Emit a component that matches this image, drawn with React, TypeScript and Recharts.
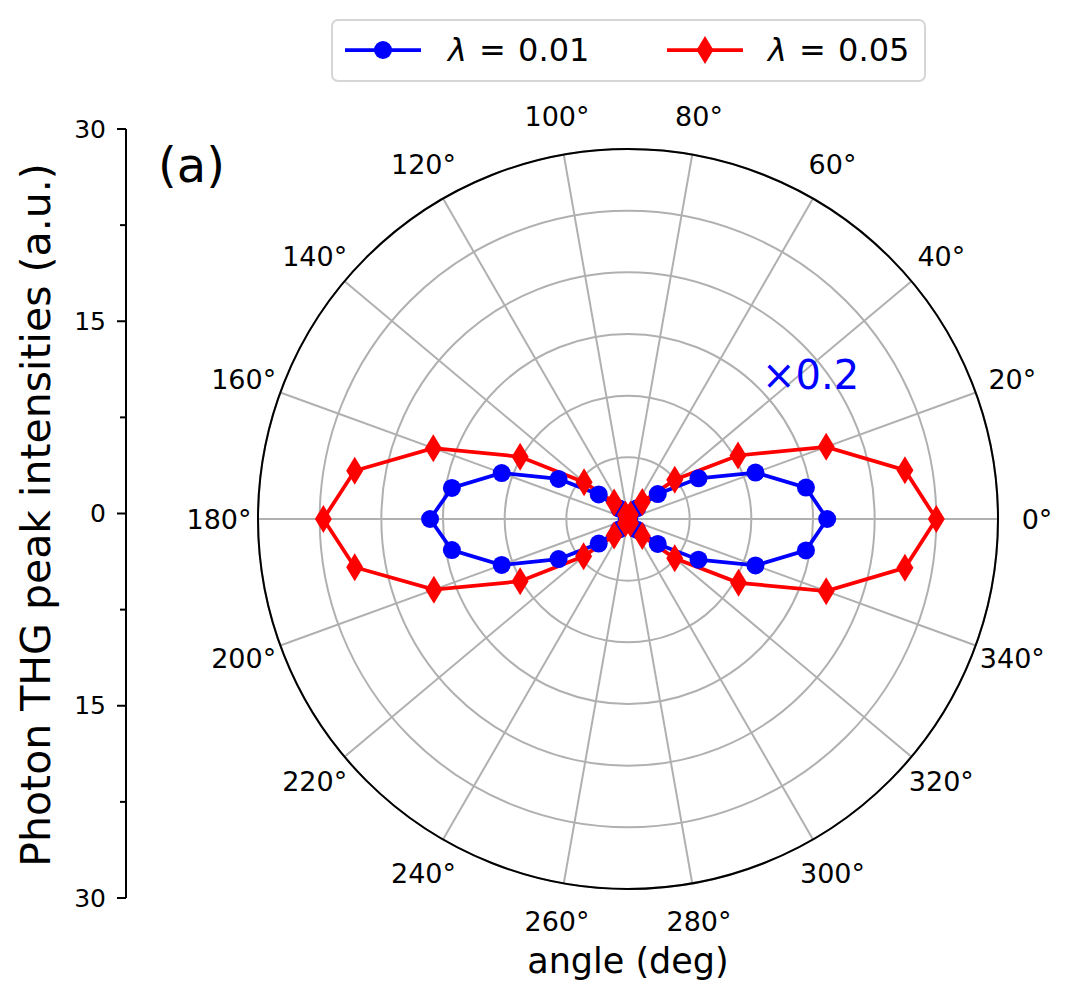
import React from "react";
import {
  RadarChart,
  Radar,
  PolarGrid,
  PolarAngleAxis,
  PolarRadiusAxis,
  Legend,
  LineChart,
  Line,
  YAxis,
} from "recharts";

// polar data, one value every 10 degrees
const angles = [
  0, 10, 20, 30, 40, 50, 60, 70, 80, 90, 100, 110, 120, 130, 140, 150, 160, 170,
  180, 190, 200, 210, 220, 230, 240, 250, 260, 270, 280, 290, 300, 310, 320, 330, 340, 350,
];

// lambda = 0.01 (already scaled by 0.2)
const blueValues = [
  16.15, 14.65, 11.0, 6.6, 3.15, 1.15, 0.25, 0.03, 0, 0, 0, 0.03, 0.25, 1.1, 3.1, 6.5, 10.9, 14.5,
  16.05, 14.5, 10.9, 6.5, 3.1, 1.1, 0.25, 0.03, 0, 0, 0, 0.03, 0.25, 1.15, 3.15, 6.6, 11.0, 14.65,
];

// lambda = 0.05
const redValues = [
  25.0, 22.8, 17.1, 10.3, 4.95, 1.8, 0.4, 0.05, 0, 0, 0, 0.05, 0.4, 1.75, 4.65, 10.1, 16.8, 22.5,
  24.7, 22.5, 16.75, 10.1, 4.7, 1.75, 0.4, 0.05, 0, 0, 0, 0.05, 0.4, 1.8, 4.95, 10.35, 17.1, 22.8,
];

const seriesNames = ["λ = 0.01", "λ = 0.05"];
const radialDomain = [0, 30];
const angleDomain = [0, 360];
const angleTicks = [0, 20, 40, 60, 80, 100, 120, 140, 160, 180, 200, 220, 240, 260, 280, 300, 320, 340];

// left intensity axis
const yTicks = [-30, -22.5, -15, -7.5, 0, 7.5, 15, 22.5, 30];
const yRange = [-30, 30];

const BLUE = "#0000ff";
const RED = "#ff0000";
const FONT = '"DejaVu Sans", sans-serif';
const LW = 3.75;

const rows = angles.map((a, i) => ({ angle: a, blue: blueValues[i], red: redValues[i] }));
const axisRows = yRange.map((v) => ({ v }));

function AngleTick(props: any) {
  const { x, y, payload } = props;
  if (payload.value % 20 !== 0 || payload.value >= 360) return <g />;
  return (
    <text x={x} y={y} textAnchor="middle" dominantBaseline="central" fontSize={27} fill="#000" fontFamily={FONT}>
      {payload.value}°
    </text>
  );
}

function YTick(props: any) {
  const { x, y, payload } = props;
  const major = payload.value % 15 === 0;
  return (
    <g>
      <line x1={x - (major ? 9 : 6)} x2={x} y1={y} y2={y} stroke="#000" strokeWidth={2} />
      {major && (
        <text x={x - 20} y={y} textAnchor="end" dominantBaseline="central" fontSize={25} fill="#000" fontFamily={FONT}>
          {Math.abs(payload.value)}
        </text>
      )}
    </g>
  );
}

function BlueDot(props: any) {
  const { cx, cy } = props;
  return <circle cx={cx} cy={cy} r={9} fill={BLUE} />;
}

function RedDot(props: any) {
  const { cx, cy } = props;
  return <path d={`M${cx},${cy - 14}L${cx + 8.5},${cy}L${cx},${cy + 14}L${cx - 8.5},${cy}Z`} fill={RED} />;
}

function LegendBox(props: any) {
  const items = props.payload || [];
  const slots = [
    { line: 12, text: 115 },
    { line: 334, text: 435 },
  ];
  return (
    <div
      style={{
        position: "relative",
        boxSizing: "border-box",
        width: 595,
        height: 63,
        border: "2px solid #d6d6d6",
        borderRadius: 7,
        background: "#fff",
        fontFamily: FONT,
        fontSize: 32,
      }}
    >
      {items.map((it: any, i: number) => {
        const s = slots[i];
        const c = it.color;
        return (
          <React.Fragment key={i}>
            <svg width={76} height={40} style={{ position: "absolute", left: s.line, top: 9 }}>
              <line x1={0} x2={76} y1={20} y2={20} stroke={c} strokeWidth={LW} />
              {i === 0 ? (
                <circle cx={38} cy={20} r={9} fill={c} />
              ) : (
                <path d="M38,6L46.5,20L38,34L29.5,20Z" fill={c} />
              )}
            </svg>
            <span
              style={{
                position: "absolute",
                left: s.text,
                top: 10,
                lineHeight: "38px",
                color: "#000",
                whiteSpace: "pre",
                wordSpacing: 2,
              }}
            >
              <i>{String(it.value).slice(0, 1)}</i>
              {String(it.value).slice(1)}
            </span>
          </React.Fragment>
        );
      })}
    </div>
  );
}

export default function App() {
  return (
    <div style={{ position: "absolute", left: 0, top: 0, width: 1072, height: 1000, background: "#fff" }}>
      <div style={{ position: "absolute", left: 0, top: 0 }}>
        <LineChart width={200} height={1000} data={axisRows} margin={{ top: 129, right: 74, bottom: 102, left: 0 }}>
          <YAxis
            type="number"
            domain={yRange}
            allowDataOverflow
            ticks={yTicks}
            interval={0}
            width={126}
            tickSize={0}
            tickMargin={0}
            tickLine={false}
            axisLine={{ stroke: "#000", strokeWidth: 2 }}
            tick={<YTick />}
          />
          <Line dataKey="v" stroke="none" dot={false} isAnimationActive={false} />
        </LineChart>
      </div>
      <div style={{ position: "absolute", left: 0, top: 0 }}>
        <RadarChart
          width={1072}
          height={1000}
          data={rows}
          cx={628}
          cy={519}
          outerRadius={370}
          startAngle={0}
          endAngle={360}
          margin={{ top: 0, right: 0, bottom: 0, left: 0 }}
        >
          <PolarGrid gridType="circle" polarAngles={angleTicks} stroke="#b0b0b0" strokeWidth={2} />
          <PolarGrid gridType="circle" polarRadius={[370]} radialLines={false} stroke="#000" strokeWidth={2} />
          <PolarAngleAxis
            dataKey="angle"
            type="number"
            domain={angleDomain}
            ticks={angleTicks}
            axisLine={false}
            tickLine={false}
            tickSize={39}
            tick={<AngleTick />}
          />
          <PolarRadiusAxis type="number" domain={radialDomain} tickCount={7} tick={false} axisLine={false} />
          <Radar
            name={seriesNames[0]}
            dataKey="blue"
            stroke={BLUE}
            strokeWidth={LW}
            fill="none"
            dot={<BlueDot />}
            isAnimationActive={false}
          />
          <Radar
            name={seriesNames[1]}
            dataKey="red"
            stroke={RED}
            strokeWidth={LW}
            fill="none"
            dot={<RedDot />}
            isAnimationActive={false}
          />
          <Legend
            content={<LegendBox />}
            wrapperStyle={{ position: "absolute", left: 331, top: 19, width: 595, height: 63 }}
          />
        </RadarChart>
      </div>
      <svg width={1072} height={1000} style={{ position: "absolute", left: 0, top: 0, pointerEvents: "none" }}>
        <text x={158} y={182} fontSize={48} fontFamily={FONT} fill="#000">
          (a)
        </text>
        <text x={762} y={389} fontSize={40} fontFamily={FONT} fill={BLUE}>
          ×0.2
        </text>
        <text x={628} y={973} fontSize={35} fontFamily={FONT} fill="#000" textAnchor="middle">
          angle (deg)
        </text>
        <text x={50} y={515} fontSize={41} fontFamily={FONT} fill="#000" textAnchor="middle" transform="rotate(-90 50 515)">
          Photon THG peak intensities (a.u.)
        </text>
      </svg>
    </div>
  );
}
